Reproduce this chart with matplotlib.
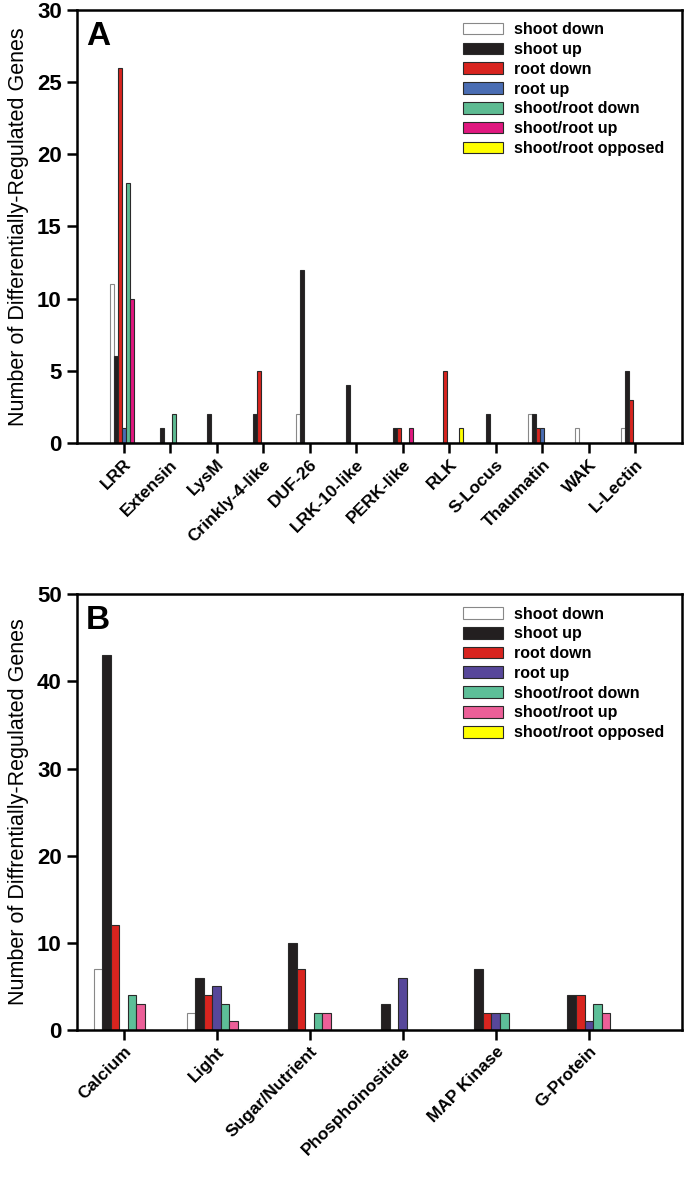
import numpy as np
import matplotlib.pyplot as plt

plt.rcParams['font.family'] = ['Liberation Sans', 'DejaVu Sans']

series = ["shoot down", "shoot up", "root down", "root up",
          "shoot/root down", "shoot/root up", "shoot/root opposed"]

# panel A - receptor-like kinase classes
cats_a = ["LRR", "Extensin", "LysM", "Crinkly-4-like", "DUF-26", "LRK-10-like",
          "PERK-like", "RLK", "S-Locus", "Thaumatin", "WAK", "L-Lectin"]
shoot_down_a = [11, 0, 0, 0, 2, 0, 0, 0, 0, 2, 1, 1]
shoot_up_a = [6, 1, 2, 2, 12, 4, 1, 0, 2, 2, 0, 5]
root_down_a = [26, 0, 0, 5, 0, 0, 1, 5, 0, 1, 0, 3]
root_up_a = [1, 0, 0, 0, 0, 0, 0, 0, 0, 1, 0, 0]
sr_down_a = [18, 2, 0, 0, 0, 0, 0, 0, 0, 0, 0, 0]
sr_up_a = [10, 0, 0, 0, 0, 0, 1, 0, 0, 0, 0, 0]
sr_opp_a = [0, 0, 0, 0, 0, 0, 0, 1, 0, 0, 0, 0]

# panel B - signalling classes
cats_b = ["Calcium", "Light", "Sugar/Nutrient", "Phosphoinositide",
          "MAP Kinase", "G-Protein"]
shoot_down_b = [7, 2, 0, 0, 0, 0]
shoot_up_b = [43, 6, 10, 3, 7, 4]
root_down_b = [12, 4, 7, 0, 2, 4]
root_up_b = [0, 5, 0, 6, 2, 1]
sr_down_b = [4, 3, 2, 0, 2, 3]
sr_up_b = [3, 1, 2, 0, 0, 2]
sr_opp_b = [0, 0, 0, 0, 0, 0]

colors_a = ["white", "#231f20", "#d8241f", "#4a6db3", "#5dbb92", "#e0187f", "#ffff00"]
colors_b = ["white", "#231f20", "#d8241f", "#57479a", "#5dbf98", "#ec5f98", "#ffff00"]


def panel(ax, cats, data, colors, w, ymax, ystep, xlim, letter, ylabel):
    x = np.arange(1, len(cats) + 1)
    handles = []
    for i, vals in enumerate(data):
        ec = "#888888" if i == 0 else "#2a2a2a"
        b = ax.bar(x + (i - 3) * w, vals, w, color=colors[i], edgecolor=ec,
                   linewidth=0.8, label=series[i])
        handles.append(b)
    ax.set_xlim(*xlim)
    ax.set_ylim(0, ymax)
    ax.set_yticks(np.arange(0, ymax + 1, ystep))
    ax.set_xticks(x)
    ax.set_xticklabels(cats, rotation=45, ha="right", rotation_mode="anchor",
                       fontsize=12.5, fontweight="bold")
    for lab in ax.get_yticklabels():
        lab.set_fontweight("bold")
        lab.set_fontsize(16)
    ax.tick_params(axis="both", direction="out", length=7, width=1.8)
    ax.tick_params(axis="x", pad=3)
    ax.tick_params(axis="y", pad=4)
    for s in ax.spines.values():
        s.set_linewidth(1.8)
    ax.set_ylabel(ylabel, fontsize=15.5, labelpad=6)
    ax.text(0.015, 0.975, letter, transform=ax.transAxes, fontsize=24,
            fontweight="bold", va="top", ha="left")
    leg = ax.legend(handles=handles, loc="upper left", bbox_to_anchor=(0.625, 0.99),
                    frameon=False, borderpad=0, fontsize=11.5, handlelength=2.5,
                    handleheight=0.75, handletextpad=0.7, labelspacing=0.3)
    for t in leg.get_texts():
        t.set_fontweight("bold")


fig = plt.figure(figsize=(6.85, 11.78), dpi=100)
ax1 = fig.add_axes([0.1124, 0.624, 0.883, 0.3676])
ax2 = fig.add_axes([0.1124, 0.1256, 0.883, 0.370])

panel(ax1, cats_a,
      [shoot_down_a, shoot_up_a, root_down_a, root_up_a, sr_down_a, sr_up_a, sr_opp_a],
      colors_a, 0.086, 30, 5, (0, 13), "A", "Number of Differentially-Regulated Genes")
panel(ax2, cats_b,
      [shoot_down_b, shoot_up_b, root_down_b, root_up_b, sr_down_b, sr_up_b, sr_opp_b],
      colors_b, 0.092, 50, 10, (0.5, 7), "B", "Number of Diffrentially-Regulated Genes")

fig.savefig("out.png", dpi=100)
